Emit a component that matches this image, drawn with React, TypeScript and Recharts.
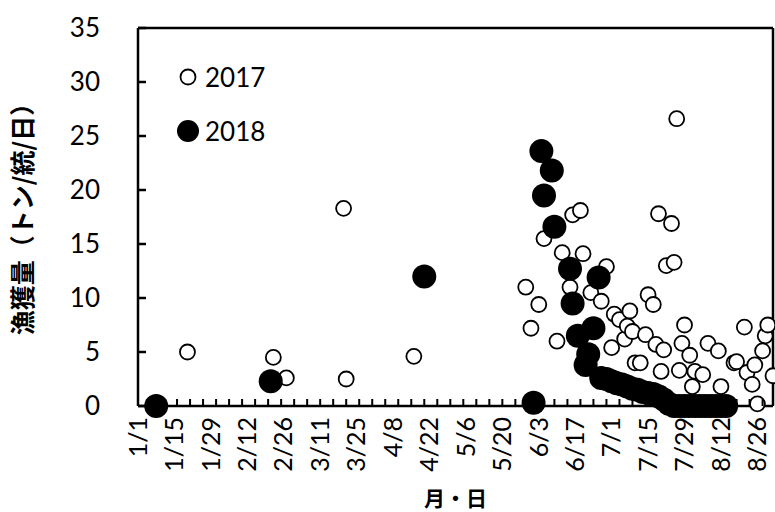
import { Legend, ReferenceLine, Scatter, ScatterChart, XAxis, YAxis } from 'recharts';

// x values are day numbers (1 = 1/1, leap-year calendar as in the source sheet)
const xTickDays = [1, 15, 29, 43, 57, 71, 85, 99, 113, 127, 141, 155, 169, 183, 197, 211, 225, 239];
const xTickLabels = ['1/1', '1/15', '1/29', '2/12', '2/26', '3/11', '3/25', '4/8', '4/22', '5/6', '5/20', '6/3', '6/17', '7/1', '7/15', '7/29', '8/12', '8/26'];
const minorTickDays = [
  1, 6, 11, 16, 21, 26, 31, 36, 41, 46, 51, 56, 61, 66, 71, 76, 81, 86, 91, 96, 101, 106, 111, 116, 121,
  126, 131, 136, 141, 146, 151, 156, 161, 166, 171, 176, 181, 186, 191, 196, 201, 206, 211, 216, 221,
  226, 231, 236, 241,
];
const yTicks = [0, 5, 10, 15, 20, 25, 30, 35];
const X_MIN = 1;
const X_MAX = 245;
const Y_MAX = 35;

const days2017 = [
  20, 53, 58, 80, 81, 107, 150, 152, 155, 157, 162, 164, 167, 168, 171, 172, 175, 179, 181, 183, 184, 186,
  188, 189, 190, 191, 192, 194, 196, 197, 199, 200, 201, 202, 203, 204, 206, 207, 208, 209, 210, 211, 213,
  214, 215, 218, 220, 224, 225, 230, 231, 234, 235, 237, 238, 239, 241, 242, 243, 245,
];
const catch2017 = [
  5.0, 4.5, 2.6, 18.3, 2.5, 4.6, 11.0, 7.2, 9.4, 15.5, 6.0, 14.2, 11.0, 17.7, 18.1, 14.1, 10.5, 9.7, 12.9,
  5.4, 8.5, 8.0, 6.2, 7.4, 8.8, 6.9, 4.0, 4.0, 6.6, 10.3, 9.4, 5.7, 17.8, 3.2, 5.2, 13.0, 16.9, 13.3, 26.6,
  3.3, 5.8, 7.5, 4.7, 1.8, 3.2, 2.9, 5.8, 5.1, 1.8, 4.0, 4.1, 7.3, 3.1, 2.0, 3.8, 0.2, 5.1, 6.5, 7.5, 2.8,
];

const days2018 = [
  8, 52, 111, 153, 156, 157, 160, 161, 167, 168, 170, 173, 174, 176, 178, 179, 181, 183, 185, 187, 189,
  191, 193, 195, 197, 199, 201, 203, 205, 207, 209, 211, 213, 215, 217, 219, 221, 223, 225, 227,
];
const catch2018 = [
  0, 2.3, 12.0, 0.3, 23.6, 19.5, 21.8, 16.6, 12.7, 9.5, 6.5, 3.8, 4.8, 7.2, 11.9, 2.6, 2.5, 2.3, 2.1, 2.0,
  1.8, 1.6, 1.5, 1.3, 1.2, 1.1, 0.9, 0.6, 0.2, 0, 0, 0, 0, 0, 0, 0, 0, 0, 0, 0,
];

const data2017 = days2017.map((day, i) => ({ day, val: catch2017[i] }));
const data2018 = days2018.map((day, i) => ({ day, val: catch2018[i] }));

// label ticks and 5-day minor ticks share one axis
const allXTicks = Array.from(new Set([...minorTickDays, ...xTickDays])).sort((a, b) => a - b);

const FONT = 'Lato, "Noto Sans", sans-serif';
const JP_FONT = '"Noto Sans CJK JP", sans-serif';
const X_TICK_GAP = 11;
const Y_TICK_GAP = 38;
const AXIS_LINE = { stroke: '#000', strokeWidth: 2.5 };

const OpenDot = (p: any) => (
  <circle cx={p.cx} cy={p.cy} r={7.5} fill="#fff" stroke="#000" strokeWidth={1.8} />
);
const FilledDot = (p: any) => <circle cx={p.cx} cy={p.cy} r={12} fill="#000" />;

const XTick = ({ x, y, payload }: any) => {
  const idx = xTickDays.indexOf(payload.value);
  const isMinor = minorTickDays.includes(payload.value);
  const axisY = y - X_TICK_GAP;
  return (
    <g>
      {isMinor && <rect x={x - 1} y={axisY - 7} width={2} height={7} fill="#000" />}
      {idx >= 0 && (
        <text
          x={x}
          y={y}
          transform={`rotate(-90, ${x}, ${y})`}
          textAnchor="end"
          dy="0.35em"
          fontFamily={FONT}
          fontSize={25}
          fill="#000"
        >
          {xTickLabels[idx]}
        </text>
      )}
    </g>
  );
};

const YTick = ({ x, y, payload }: any) => {
  const axisX = x + Y_TICK_GAP;
  return (
    <g>
      <rect x={axisX} y={y - 1.25} width={8} height={2.5} fill="#000" />
      <text x={x} y={y} textAnchor="end" dy="0.35em" fontFamily={FONT} fontSize={26} fill="#000">
        {payload.value}
      </text>
    </g>
  );
};

const renderLegend = (props: any) => (
  <div style={{ fontFamily: FONT, fontSize: 26, color: '#000' }}>
    {props.payload.map((entry: any) => (
      <div key={entry.value} style={{ display: 'flex', alignItems: 'center', height: 54 }}>
        <svg width={26} height={26} style={{ marginRight: 4 }}>
          {entry.value === '2017' ? (
            <circle cx={13} cy={13} r={7.5} fill="#fff" stroke="#000" strokeWidth={1.8} />
          ) : (
            <circle cx={13} cy={13} r={11} fill="#000" />
          )}
        </svg>
        <span>{entry.value}</span>
      </div>
    ))}
  </div>
);

export default function App() {
  return (
    <div style={{ position: 'absolute', left: 0, top: 0, width: 775, height: 512, background: '#fff' }}>
      <ScatterChart width={775} height={512} margin={{ top: 28, right: 2, bottom: 0, left: 0 }}>
        <XAxis
          dataKey="day"
          type="number"
          domain={[X_MIN, X_MAX]}
          ticks={allXTicks}
          interval={0}
          height={106}
          tickSize={0}
          tickMargin={X_TICK_GAP}
          tickLine={false}
          axisLine={AXIS_LINE}
          tick={<XTick />}
          label={{
            content: ({ viewBox }: any) => (
              <text
                x={viewBox.x + viewBox.width / 2}
                y={viewBox.y + 91}
                textAnchor="middle"
                dominantBaseline="central"
                fontFamily={JP_FONT}
                fontWeight="bold"
                fontSize={21}
                fill="#000"
              >
                月・日
              </text>
            ),
          }}
        />
        <YAxis
          dataKey="val"
          type="number"
          domain={[0, Y_MAX]}
          ticks={yTicks}
          interval={0}
          width={138}
          tickSize={0}
          tickMargin={Y_TICK_GAP}
          tickLine={false}
          axisLine={AXIS_LINE}
          tick={<YTick />}
          label={{
            content: ({ viewBox }: any) => {
              const cx = 21;
              const cy = viewBox.y + viewBox.height / 2 - 4;
              return (
                <text
                  x={cx}
                  y={cy}
                  transform={`rotate(-90, ${cx}, ${cy})`}
                  textAnchor="middle"
                  dominantBaseline="central"
                  fontFamily={JP_FONT}
                  fontWeight="bold"
                  fontSize={25}
                  fill="#000"
                >
                  漁獲量（トン/統/日）
                </text>
              );
            },
          }}
        />
        {/* plot box: top and right edges */}
        <ReferenceLine y={Y_MAX} stroke="#000" strokeWidth={2.5} />
        <ReferenceLine x={X_MAX} stroke="#000" strokeWidth={2.5} />
        <Legend
          layout="horizontal"
          verticalAlign="middle"
          align="center"
          content={renderLegend}
          wrapperStyle={{ left: 175, top: 50, width: 'auto', height: 'auto' }}
        />
        <Scatter name="2017" data={data2017} shape={OpenDot} isAnimationActive={false} />
        <Scatter name="2018" data={data2018} shape={FilledDot} isAnimationActive={false} />
      </ScatterChart>
    </div>
  );
}
